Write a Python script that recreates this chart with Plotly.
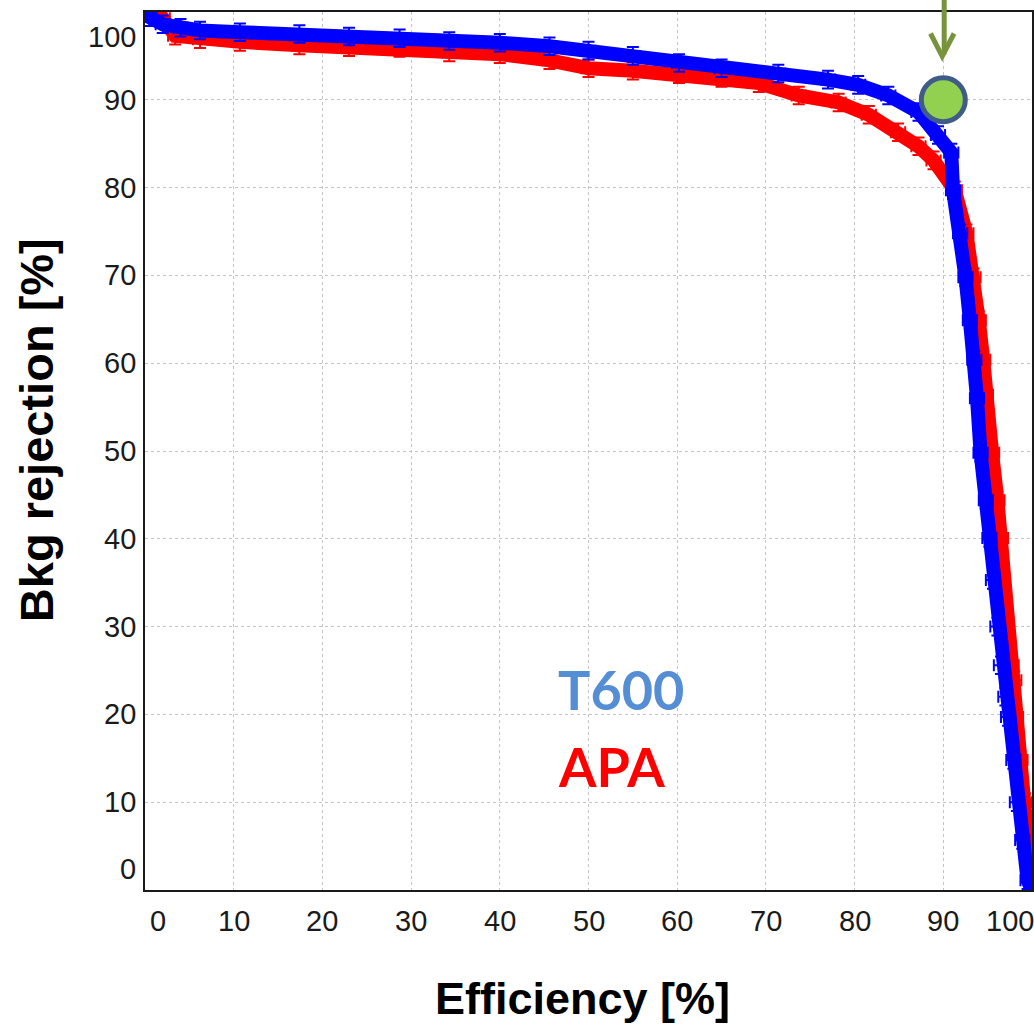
import plotly.graph_objects as go

# ---- data ----
t600_eff = [0, 0.5, 2, 4, 6.2, 10.7, 17.4, 23, 28.7, 34.3, 40, 45.6, 50, 55, 60.2, 65,
            71.4, 77, 80.4, 83.8, 87.2, 89.4, 90.9, 91.1, 91.9, 92.5, 93.0, 93.5, 93.8,
            94.2, 94.8, 95.2, 95.6, 96.1, 96.5, 97.0, 97.3, 97.9, 98.3, 98.9, 99.5, 100]
t600_rej = [100, 99.4, 98.6, 98.2, 97.9, 97.7, 97.5, 97.2, 97.0, 96.7, 96.5, 96.1, 95.6, 95.0,
            94.2, 93.6, 93.0, 92.3, 91.7, 90.5, 88.6, 86.0, 84.0, 79.7, 74.8, 69.8, 64.9,
            60.4, 56.0, 49.8, 44.4, 40.1, 35.3, 30.0, 25.6, 22.0, 19.7, 14.8, 10.0, 5.7, 1.1, 0]

apa_eff = [0, 2, 3.4, 6.2, 10.7, 17.4, 23, 28.7, 34.3, 40, 45.6, 50, 55, 60.2, 65, 69.2,
           73.7, 78.2, 81.6, 84.9, 87.2, 88.9, 91.3, 92.6, 93.4, 94.0, 94.5, 94.8, 95.5,
           96.1, 96.5, 96.7, 97.1, 97.7, 98.0, 98.2, 98.7, 99.2, 99.7, 100]
apa_rej = [100, 99.3, 97.3, 96.9, 96.6, 96.2, 96.0, 95.9, 95.4, 95.2, 94.5, 93.6, 93.3, 92.9,
           92.5, 91.9, 90.5, 89.7, 88.3, 86.3, 84.7, 83.1, 79.7, 74.8, 69.8, 64.9, 60.4,
           56.4, 49.8, 44.4, 40.1, 35.3, 30.0, 25.6, 23.9, 19.7, 14.8, 10.0, 5.7, 0]

err_rej = 1.0   # rejection uncertainty [%]
err_eff = 0.8   # efficiency uncertainty [%]

tick_vals = [0, 10, 20, 30, 40, 50, 60, 70, 80, 90, 100]
tick_text = ["0", "10", "20", "30", "40", "50", "60", "70", "80", "90", "100"]

working_point = (90, 90)
series_labels = ["T600", "APA"]

# ---- figure ----
fig = go.Figure()

def add_curve(x, y, color):
    fig.add_trace(go.Scatter(
        x=x, y=y, mode="lines+markers",
        line=dict(color=color, width=14),
        marker=dict(color=color, size=6, symbol="square"),
        error_y=dict(type="constant", value=err_rej, color=color, thickness=2, width=6),
        error_x=dict(type="constant", value=err_eff, color=color, thickness=2, width=6),
        showlegend=False, hoverinfo="x+y",
    ))

add_curve(apa_eff, apa_rej, "#ff0000")
add_curve(t600_eff, t600_rej, "#0000ff")

grid = dict(showgrid=True, gridcolor="#c4c4c4", griddash="dot", gridwidth=1,
            zeroline=False, showticklabels=False, ticks="",
            showline=True, linecolor="#1a1a1a", linewidth=2, mirror=True,
            tickvals=tick_vals)

fig.update_layout(
    width=1034, height=1030,
    margin=dict(l=145, r=0, t=12, b=140),
    paper_bgcolor="white", plot_bgcolor="white",
    xaxis=dict(range=[0, 100], **grid),
    yaxis=dict(range=[0, 100], **grid),
    font=dict(family="Liberation Sans, Arial, sans-serif", color="#1a1a1a"),
)

anns = []
xshift_map = {0: 13, 100: -22}
for v, t in zip(tick_vals, tick_text):
    anns.append(dict(x=v, y=0, xref="x", yref="paper", text=t, showarrow=False,
                     xanchor="center", yanchor="middle", yshift=-31,
                     xshift=xshift_map.get(v, 0),
                     font=dict(size=29, color="#1a1a1a")))
yshift_map = {0: 21, 100: -25}
for v, t in zip(tick_vals, tick_text):
    anns.append(dict(x=0, y=v, xref="paper", yref="y", text=t, showarrow=False,
                     xanchor="right", yanchor="middle", xshift=-7,
                     yshift=yshift_map.get(v, 0),
                     font=dict(size=29, color="#1a1a1a")))

anns.append(dict(x=0.4927, y=-0.124, xref="paper", yref="paper", text="<b>Efficiency [%]</b>",
                 showarrow=False, xanchor="center", yanchor="middle",
                 font=dict(size=45, color="black", family="Liberation Sans, Arial")))
anns.append(dict(x=-0.1215, y=0.524, xref="paper", yref="paper", text="<b>Bkg rejection [%]</b>",
                 showarrow=False, xanchor="center", yanchor="middle", textangle=-90,
                 font=dict(size=47, color="black", family="Liberation Sans, Arial")))

anns.append(dict(x=46.3, y=22.8, xref="x", yref="y", text="<b>" + series_labels[0] + "</b>",
                 showarrow=False, xanchor="left", yanchor="middle",
                 font=dict(size=54, color="#558ed5", family="Lato, Open Sans, sans-serif")))
anns.append(dict(x=46.3, y=14.1, xref="x", yref="y", text="<b>" + series_labels[1] + "</b>",
                 showarrow=False, xanchor="left", yanchor="middle",
                 font=dict(size=54, color="#ff0000", family="Lato, Open Sans, sans-serif")))

fig.update_layout(annotations=anns)

# working-point marker and arrow
wx, wy = working_point
fig.add_shape(type="circle", xref="x", yref="y", xsizemode="pixel", ysizemode="pixel",
              xanchor=wx, yanchor=wy, x0=-22, x1=22, y0=-22, y1=22,
              fillcolor="#92d050", line=dict(color="#3e5c87", width=5), layer="above")
arrow_col = "#77933c"
fig.add_shape(type="line", xref="x", yref="paper", x0=wx + 0.1, x1=wx + 0.1,
              y0=1.02, y1=0.952, line=dict(color=arrow_col, width=5))
fig.add_shape(type="path", xref="paper", yref="paper",
              path="M 0.8856 0.9755 L 0.8988 0.9495 L 0.9121 0.9755",
              line=dict(color=arrow_col, width=5))

fig.write_html("out.html")
